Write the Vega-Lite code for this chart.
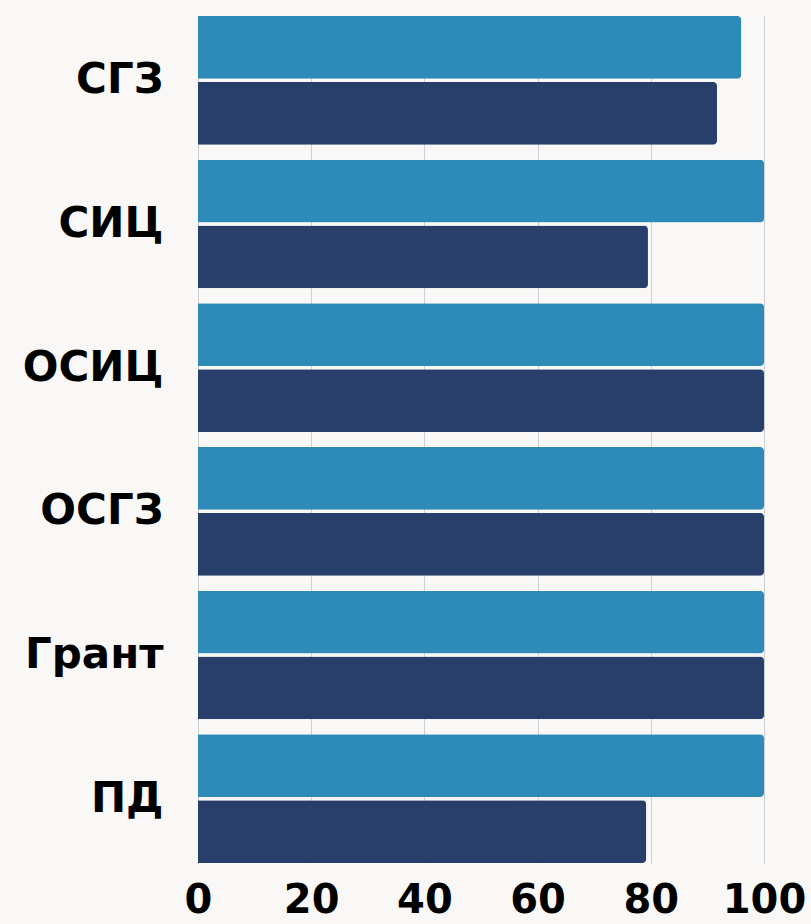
{
  "$schema": "https://vega.github.io/schema/vega-lite/v6.json",
  "width": 566,
  "height": 847,
  "autosize": {"type": "none"},
  "padding": {"left": 198, "top": 16, "right": 47, "bottom": 61},
  "background": "#F9F8F6",
  "config": {"view": {"stroke": null}},
  "data": {
    "values": [
      {"cat": "СГЗ", "series": "Ряд 1", "value": 96.0},
      {"cat": "СГЗ", "series": "Ряд 2", "value": 91.7},
      {"cat": "СИЦ", "series": "Ряд 1", "value": 100},
      {"cat": "СИЦ", "series": "Ряд 2", "value": 79.5},
      {"cat": "ОСИЦ", "series": "Ряд 1", "value": 100},
      {"cat": "ОСИЦ", "series": "Ряд 2", "value": 100},
      {"cat": "ОСГЗ", "series": "Ряд 1", "value": 100},
      {"cat": "ОСГЗ", "series": "Ряд 2", "value": 100},
      {"cat": "Грант", "series": "Ряд 1", "value": 100},
      {"cat": "Грант", "series": "Ряд 2", "value": 100},
      {"cat": "ПД", "series": "Ряд 1", "value": 100},
      {"cat": "ПД", "series": "Ряд 2", "value": 79.2}
    ]
  },
  "mark": {"type": "bar", "cornerRadiusEnd": 4},
  "encoding": {
    "y": {
      "field": "cat",
      "type": "nominal",
      "sort": null,
      "scale": {"paddingInner": 0.104, "paddingOuter": 0},
      "axis": {
        "title": null,
        "domain": false,
        "ticks": false,
        "labelPadding": 35,
        "labelFont": "DejaVu Sans",
        "labelFontWeight": "bold",
        "labelFontSize": 42,
        "labelColor": "#000000",
        "labelBaseline": "middle"
      }
    },
    "yOffset": {
      "field": "series",
      "type": "nominal",
      "sort": null,
      "scale": {"paddingInner": 0.047, "paddingOuter": 0}
    },
    "x": {
      "field": "value",
      "type": "quantitative",
      "scale": {"domain": [0, 100], "nice": false},
      "axis": {
        "title": null,
        "values": [0, 20, 40, 60, 80, 100],
        "domain": false,
        "ticks": false,
        "grid": true,
        "gridColor": "#CFCFCF",
        "gridWidth": 1,
        "labelPadding": 17,
        "labelFont": "DejaVu Sans",
        "labelFontWeight": "bold",
        "labelFontSize": 40,
        "labelColor": "#000000",
        "labelFlush": false
      }
    },
    "color": {
      "field": "series",
      "type": "nominal",
      "sort": null,
      "scale": {"range": ["#2D8AB9", "#273F6A"]},
      "legend": null
    }
  }
}
